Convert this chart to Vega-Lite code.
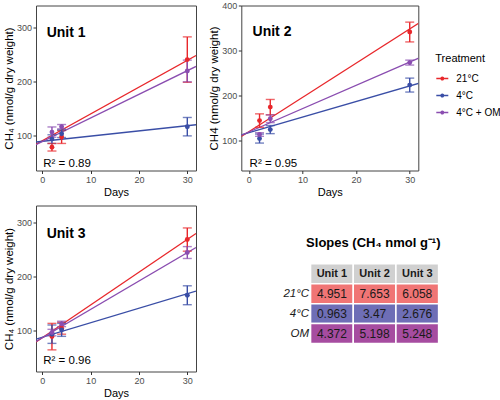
{
  "$schema": "https://vega.github.io/schema/vega-lite/v6.json",
  "autosize": {"type": "pad"},
  "padding": {"left": 2, "top": 0.5, "right": 0, "bottom": 0},
  "background": "white",
  "datasets": {
    "obs": [
      {"unit": "Unit 1", "treatment": "21°C", "day": 2, "value": 78, "err": 7},
      {"unit": "Unit 1", "treatment": "21°C", "day": 4, "value": 97, "err": 12},
      {"unit": "Unit 1", "treatment": "21°C", "day": 30, "value": 240, "err": 42},
      {"unit": "Unit 1", "treatment": "4°C", "day": 2, "value": 93, "err": 8},
      {"unit": "Unit 1", "treatment": "4°C", "day": 4, "value": 103, "err": 7},
      {"unit": "Unit 1", "treatment": "4°C", "day": 30, "value": 116, "err": 17},
      {"unit": "Unit 1", "treatment": "4°C + OM", "day": 2, "value": 106, "err": 9.5},
      {"unit": "Unit 1", "treatment": "4°C + OM", "day": 4, "value": 116, "err": 4},
      {"unit": "Unit 1", "treatment": "4°C + OM", "day": 30, "value": 219, "err": 20},
      {"unit": "Unit 2", "treatment": "21°C", "day": 2, "value": 144, "err": 15},
      {"unit": "Unit 2", "treatment": "21°C", "day": 4, "value": 174, "err": 17},
      {"unit": "Unit 2", "treatment": "21°C", "day": 30, "value": 341, "err": 22},
      {"unit": "Unit 2", "treatment": "4°C", "day": 2, "value": 104, "err": 10},
      {"unit": "Unit 2", "treatment": "4°C", "day": 4, "value": 124, "err": 9},
      {"unit": "Unit 2", "treatment": "4°C", "day": 30, "value": 223, "err": 15.5},
      {"unit": "Unit 2", "treatment": "4°C + OM", "day": 2, "value": 113, "err": 4},
      {"unit": "Unit 2", "treatment": "4°C + OM", "day": 4, "value": 148, "err": 8.5},
      {"unit": "Unit 2", "treatment": "4°C + OM", "day": 30, "value": 273, "err": 5.5},
      {"unit": "Unit 3", "treatment": "21°C", "day": 2, "value": 89.5, "err": 24.5},
      {"unit": "Unit 3", "treatment": "21°C", "day": 4, "value": 105, "err": 11},
      {"unit": "Unit 3", "treatment": "21°C", "day": 30, "value": 269, "err": 21.5},
      {"unit": "Unit 3", "treatment": "4°C", "day": 2, "value": 94, "err": 17},
      {"unit": "Unit 3", "treatment": "4°C", "day": 4, "value": 102, "err": 12},
      {"unit": "Unit 3", "treatment": "4°C", "day": 30, "value": 166, "err": 17.5},
      {"unit": "Unit 3", "treatment": "4°C + OM", "day": 2, "value": 97, "err": 6},
      {"unit": "Unit 3", "treatment": "4°C + OM", "day": 4, "value": 113, "err": 5},
      {"unit": "Unit 3", "treatment": "4°C + OM", "day": 30, "value": 245, "err": 11}
    ],
    "fit": [
      {"unit": "Unit 1", "treatment": "21°C", "day": -1.3, "value": 83.6},
      {"unit": "Unit 1", "treatment": "21°C", "day": 31.8, "value": 247.4},
      {"unit": "Unit 1", "treatment": "4°C", "day": -1.3, "value": 87.7},
      {"unit": "Unit 1", "treatment": "4°C", "day": 31.8, "value": 119.6},
      {"unit": "Unit 1", "treatment": "4°C + OM", "day": -1.3, "value": 82.7},
      {"unit": "Unit 1", "treatment": "4°C + OM", "day": 31.8, "value": 227.4},
      {"unit": "Unit 2", "treatment": "21°C", "day": -1.4, "value": 108.5},
      {"unit": "Unit 2", "treatment": "21°C", "day": 31.8, "value": 361.8},
      {"unit": "Unit 2", "treatment": "4°C", "day": -1.4, "value": 112.5},
      {"unit": "Unit 2", "treatment": "4°C", "day": 31.8, "value": 227.3},
      {"unit": "Unit 2", "treatment": "4°C + OM", "day": -1.4, "value": 111.4},
      {"unit": "Unit 2", "treatment": "4°C + OM", "day": 31.8, "value": 283.5},
      {"unit": "Unit 3", "treatment": "21°C", "day": -1.3, "value": 79.6},
      {"unit": "Unit 3", "treatment": "21°C", "day": 31.8, "value": 280.1},
      {"unit": "Unit 3", "treatment": "4°C", "day": -1.3, "value": 85},
      {"unit": "Unit 3", "treatment": "4°C", "day": 31.8, "value": 173.6},
      {"unit": "Unit 3", "treatment": "4°C + OM", "day": -1.3, "value": 80.6},
      {"unit": "Unit 3", "treatment": "4°C + OM", "day": 31.8, "value": 254.3}
    ],
    "labels": [
      {"unit": "Unit 1", "r2": "R² = 0.89"},
      {"unit": "Unit 2", "r2": "R² = 0.95"},
      {"unit": "Unit 3", "r2": "R² = 0.96"}
    ],
    "slopes": [
      {"row": "hdr", "col": "Unit 1", "txt": "Unit 1"},
      {"row": "hdr", "col": "Unit 2", "txt": "Unit 2"},
      {"row": "hdr", "col": "Unit 3", "txt": "Unit 3"},
      {"row": "21°C", "col": "Unit 1", "txt": "4.951"},
      {"row": "21°C", "col": "Unit 2", "txt": "7.653"},
      {"row": "21°C", "col": "Unit 3", "txt": "6.058"},
      {"row": "4°C", "col": "Unit 1", "txt": "0.963"},
      {"row": "4°C", "col": "Unit 2", "txt": "3.47"},
      {"row": "4°C", "col": "Unit 3", "txt": "2.676"},
      {"row": "OM", "col": "Unit 1", "txt": "4.372"},
      {"row": "OM", "col": "Unit 2", "txt": "5.198"},
      {"row": "OM", "col": "Unit 3", "txt": "5.248"}
    ]
  },
  "bounds": "flush",
  "columns": 2,
  "spacing": {"row": 35, "column": 45.3},
  "resolve": {"legend": {"color": "independent"}},
  "concat": [
    {
      "width": 160,
      "height": 165,
      "layer": [
        {
          "data": {"name": "fit"},
          "transform": [{"filter": "datum.unit === 'Unit 1'"}],
          "mark": {"type": "line", "clip": true, "strokeWidth": 1.3},
          "encoding": {
            "x": {"field": "day", "type": "quantitative", "title": "Days", "scale": {"domain": [-1.3, 31.8], "nice": false, "zero": false}, "axis": {"values": [0, 10, 20, 30]}},
            "y": {"field": "value", "type": "quantitative", "title": "CH₄  (nmol/g dry weight)", "scale": {"domain": [35, 340], "nice": false, "zero": false}, "axis": {"values": [100, 200, 300]}},
            "color": {"field": "treatment", "type": "nominal", "scale": {"domain": ["21°C", "4°C", "4°C + OM"], "range": ["#E8272B", "#3A4EA6", "#8A4DB0"]}, "legend": null},
            "detail": {"field": "treatment"}
          }
        },
        {
          "data": {"name": "obs"},
          "transform": [{"filter": "datum.unit === 'Unit 1'"}],
          "mark": {"type": "errorbar", "ticks": {"size": 9}, "thickness": 1.4},
          "encoding": {
            "x": {"field": "day", "type": "quantitative", "title": "Days"},
            "y": {"field": "value", "type": "quantitative", "title": "CH₄  (nmol/g dry weight)"},
            "yError": {"field": "err"},
            "color": {"field": "treatment", "type": "nominal", "legend": null}
          }
        },
        {
          "data": {"name": "obs"},
          "transform": [{"filter": "datum.unit === 'Unit 1'"}],
          "mark": {"type": "point", "filled": true, "size": 24, "opacity": 1},
          "encoding": {
            "x": {"field": "day", "type": "quantitative", "title": "Days"},
            "y": {"field": "value", "type": "quantitative", "title": "CH₄  (nmol/g dry weight)"},
            "color": {"field": "treatment", "type": "nominal", "legend": null}
          }
        },
        {
          "data": {"name": "labels"},
          "transform": [{"filter": "datum.unit === 'Unit 1'"}],
          "mark": {"type": "text", "align": "left", "baseline": "middle", "fontSize": 14, "fontWeight": "bold", "color": "black"},
          "encoding": {
            "x": {"datum": 0.9, "type": "quantitative"},
            "y": {"datum": 290, "type": "quantitative"},
            "text": {"field": "unit"}
          }
        },
        {
          "data": {"name": "labels"},
          "transform": [{"filter": "datum.unit === 'Unit 1'"}],
          "mark": {"type": "text", "align": "left", "baseline": "alphabetic", "fontSize": 11.5, "color": "black"},
          "encoding": {
            "x": {"datum": 0.2, "type": "quantitative"},
            "y": {"datum": 41.6, "type": "quantitative"},
            "text": {"field": "r2"}
          }
        }
      ]
    },
    {
      "width": 177,
      "height": 165,
      "layer": [
        {
          "data": {"name": "fit"},
          "transform": [{"filter": "datum.unit === 'Unit 2'"}],
          "mark": {"type": "line", "clip": true, "strokeWidth": 1.3},
          "encoding": {
            "x": {"field": "day", "type": "quantitative", "title": "Days", "scale": {"domain": [-1.4, 31.6], "nice": false, "zero": false}, "axis": {"values": [0, 10, 20, 30]}},
            "y": {"field": "value", "type": "quantitative", "title": "CH4 (nmol/g dry weight)", "scale": {"domain": [33, 400], "nice": false, "zero": false}, "axis": {"values": [100, 200, 300, 400]}},
            "color": {
              "field": "treatment", "type": "nominal",
              "scale": {"domain": ["21°C", "4°C", "4°C + OM"], "range": ["#E8272B", "#3A4EA6", "#8A4DB0"]},
              "legend": {
                "orient": "none", "legendX": 194, "legendY": 47,
                "title": "Treatment", "titleFontSize": 11, "titleFontWeight": "normal", "titleColor": "black",
                "labelFontSize": 10, "labelColor": "black", "labelOffset": 7,
                "symbolType": "M-1,0L1,0M-0.2,0a0.2,0.2 0 1,0 0.4,0a0.2,0.2 0 1,0 -0.4,0",
                "symbolSize": 144, "symbolStrokeWidth": 1.5,
                "rowPadding": 5, "titlePadding": 8
              }
            },
            "detail": {"field": "treatment"}
          }
        },
        {
          "data": {"name": "obs"},
          "transform": [{"filter": "datum.unit === 'Unit 2'"}],
          "mark": {"type": "errorbar", "ticks": {"size": 9}, "thickness": 1.4},
          "encoding": {
            "x": {"field": "day", "type": "quantitative", "title": "Days"},
            "y": {"field": "value", "type": "quantitative", "title": "CH4 (nmol/g dry weight)"},
            "yError": {"field": "err"},
            "color": {"field": "treatment", "type": "nominal", "legend": null}
          }
        },
        {
          "data": {"name": "obs"},
          "transform": [{"filter": "datum.unit === 'Unit 2'"}],
          "mark": {"type": "point", "filled": true, "size": 24, "opacity": 1},
          "encoding": {
            "x": {"field": "day", "type": "quantitative", "title": "Days"},
            "y": {"field": "value", "type": "quantitative", "title": "CH4 (nmol/g dry weight)"},
            "color": {"field": "treatment", "type": "nominal", "legend": null}
          }
        },
        {
          "data": {"name": "labels"},
          "transform": [{"filter": "datum.unit === 'Unit 2'"}],
          "mark": {"type": "text", "align": "left", "baseline": "middle", "fontSize": 14, "fontWeight": "bold", "color": "black"},
          "encoding": {
            "x": {"datum": 0.7, "type": "quantitative"},
            "y": {"datum": 341, "type": "quantitative"},
            "text": {"field": "unit"}
          }
        },
        {
          "data": {"name": "labels"},
          "transform": [{"filter": "datum.unit === 'Unit 2'"}],
          "mark": {"type": "text", "align": "left", "baseline": "alphabetic", "fontSize": 11.5, "color": "black"},
          "encoding": {
            "x": {"datum": 0.15, "type": "quantitative"},
            "y": {"datum": 40.3, "type": "quantitative"},
            "text": {"field": "r2"}
          }
        }
      ]
    },
    {
      "width": 160,
      "height": 166,
      "layer": [
        {
          "data": {"name": "fit"},
          "transform": [{"filter": "datum.unit === 'Unit 3'"}],
          "mark": {"type": "line", "clip": true, "strokeWidth": 1.3},
          "encoding": {
            "x": {"field": "day", "type": "quantitative", "title": "Days", "scale": {"domain": [-1.3, 31.8], "nice": false, "zero": false}, "axis": {"values": [0, 10, 20, 30]}},
            "y": {"field": "value", "type": "quantitative", "title": "CH₄  (nmol/g dry weight)", "scale": {"domain": [25, 332], "nice": false, "zero": false}, "axis": {"values": [100, 200, 300]}},
            "color": {"field": "treatment", "type": "nominal", "scale": {"domain": ["21°C", "4°C", "4°C + OM"], "range": ["#E8272B", "#3A4EA6", "#8A4DB0"]}, "legend": null},
            "detail": {"field": "treatment"}
          }
        },
        {
          "data": {"name": "obs"},
          "transform": [{"filter": "datum.unit === 'Unit 3'"}],
          "mark": {"type": "errorbar", "ticks": {"size": 9}, "thickness": 1.4},
          "encoding": {
            "x": {"field": "day", "type": "quantitative", "title": "Days"},
            "y": {"field": "value", "type": "quantitative", "title": "CH₄  (nmol/g dry weight)"},
            "yError": {"field": "err"},
            "color": {"field": "treatment", "type": "nominal", "legend": null}
          }
        },
        {
          "data": {"name": "obs"},
          "transform": [{"filter": "datum.unit === 'Unit 3'"}],
          "mark": {"type": "point", "filled": true, "size": 24, "opacity": 1},
          "encoding": {
            "x": {"field": "day", "type": "quantitative", "title": "Days"},
            "y": {"field": "value", "type": "quantitative", "title": "CH₄  (nmol/g dry weight)"},
            "color": {"field": "treatment", "type": "nominal", "legend": null}
          }
        },
        {
          "data": {"name": "labels"},
          "transform": [{"filter": "datum.unit === 'Unit 3'"}],
          "mark": {"type": "text", "align": "left", "baseline": "middle", "fontSize": 14, "fontWeight": "bold", "color": "black"},
          "encoding": {
            "x": {"datum": 0.9, "type": "quantitative"},
            "y": {"datum": 280, "type": "quantitative"},
            "text": {"field": "unit"}
          }
        },
        {
          "data": {"name": "labels"},
          "transform": [{"filter": "datum.unit === 'Unit 3'"}],
          "mark": {"type": "text", "align": "left", "baseline": "alphabetic", "fontSize": 11.5, "color": "black"},
          "encoding": {
            "x": {"datum": 0.2, "type": "quantitative"},
            "y": {"datum": 39.3, "type": "quantitative"},
            "text": {"field": "r2"}
          }
        }
      ]
    },
    {
      "width": 198,
      "height": 138,
      "view": {"stroke": null},
      "data": {"name": "slopes"},
      "title": {"text": "Slopes (CH₄  nmol g⁻¹)", "frame": "group", "anchor": "middle", "orient": "top", "offset": 0, "baseline": "middle", "dx": 33, "dy": 50, "fontSize": 13, "fontWeight": "bold", "color": "black"},
      "encoding": {
        "x": {"field": "col", "type": "nominal", "sort": ["Unit 1", "Unit 2", "Unit 3"], "scale": {"paddingInner": 0, "paddingOuter": 0.82, "align": 0.99}, "axis": null},
        "y": {"field": "row", "type": "nominal", "sort": ["hdr", "21°C", "4°C", "OM"], "scale": {"paddingInner": 0, "paddingOuter": 0, "range": [58.3, 138]}, "axis": {"title": null, "domain": false, "ticks": false, "grid": false, "offset": -69.3, "labelFontStyle": "italic", "labelFontSize": 11.5, "labelColor": "#1a1a1a", "labelPadding": 2, "labelExpr": "datum.value === 'hdr' ? '' : datum.value"}}
      },
      "layer": [
        {
          "mark": {"type": "rect", "stroke": "white", "strokeWidth": 1.5},
          "encoding": {
            "fill": {"field": "row", "type": "nominal", "scale": {"domain": ["hdr", "21°C", "4°C", "OM"], "range": ["#D0D0D0", "#F07575", "#6E6EB6", "#A64CA0"]}, "legend": null}
          }
        },
        {
          "transform": [{"filter": "datum.row === 'hdr'"}],
          "mark": {"type": "text", "fontWeight": "bold", "fontSize": 11, "color": "#1a1a1a"},
          "encoding": {"text": {"field": "txt"}}
        },
        {
          "transform": [{"filter": "datum.row !== 'hdr'"}],
          "mark": {"type": "text", "fontSize": 12, "color": "#1a1a1a"},
          "encoding": {"text": {"field": "txt"}}
        }
      ]
    }
  ],
  "config": {
    "font": "Liberation Sans",
    "view": {"stroke": "#444444", "strokeWidth": 1},
    "axis": {
      "grid": false,
      "domain": false,
      "tickSize": 3,
      "tickColor": "#333333",
      "labelColor": "#4d4d4d",
      "labelFontSize": 9,
      "labelPadding": 1.5,
      "titleFontSize": 11.5,
      "titleFontWeight": "normal",
      "titleColor": "black",
      "titlePadding": 2
    },
    "axisX": {"titleFontSize": 11}
  }
}
